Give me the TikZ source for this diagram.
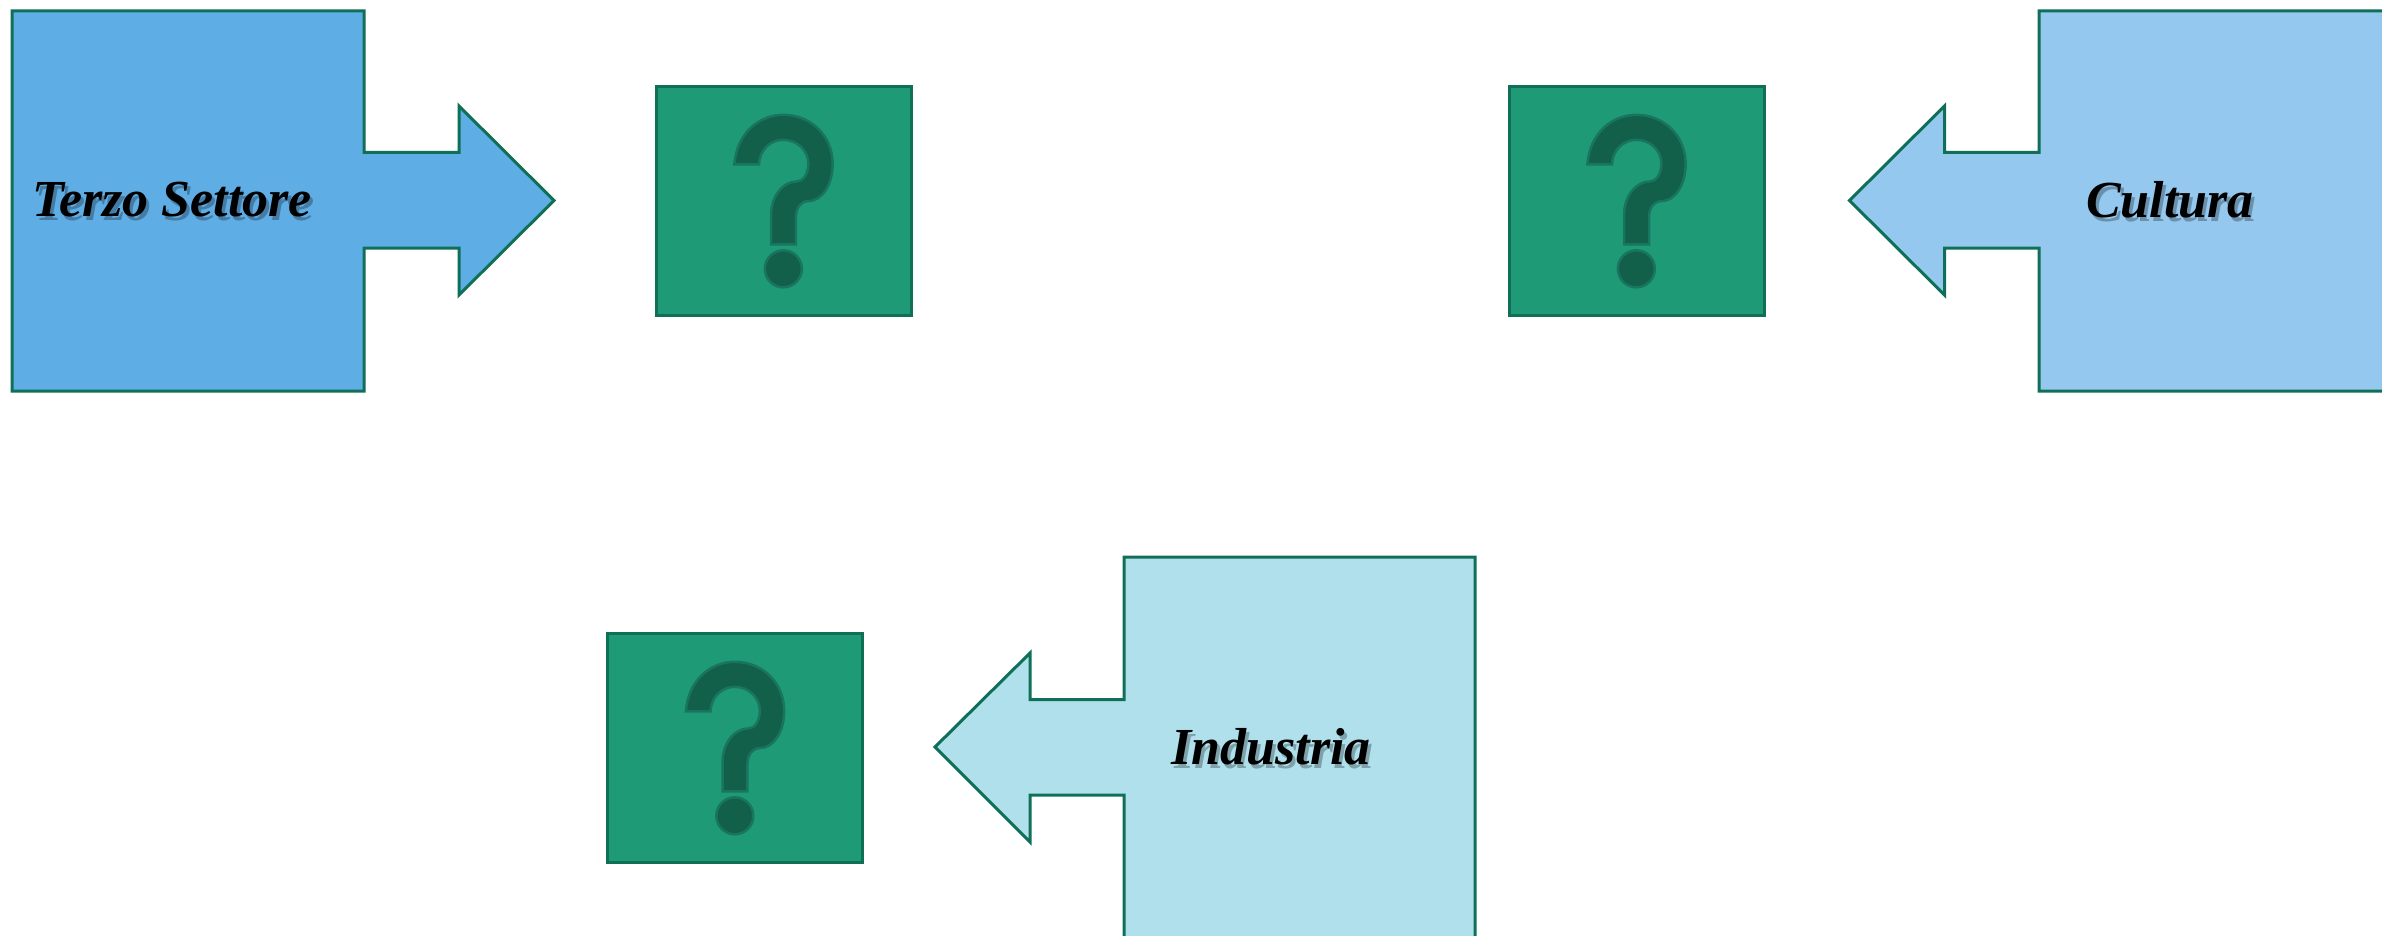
\documentclass[tikz,border=0pt]{standalone}
\usepackage{fontspec}
\setmainfont{Liberation Serif}
\definecolor{edgegreen}{HTML}{0F6F57}
\definecolor{boxgreen}{HTML}{1E9B76}
\definecolor{markdark}{HTML}{125F4A}
\definecolor{markedge}{HTML}{1A7560}
\definecolor{blueA}{HTML}{5FADE5}
\definecolor{blueB}{HTML}{95C8EE}
\definecolor{blueC}{HTML}{B0E0EC}
\tikzset{
  callout/.style={draw=edgegreen,line width=3pt,miter limit=10},
  qbox/.style={draw=edgegreen,fill=boxgreen,line width=3pt,minimum width=255pt,minimum height=229pt,inner sep=0pt},
  qmark/.style={fill=markdark,draw=markedge,line width=2.5pt},
  labeltext/.style={font=\fontsize{52}{60}\bfseries\itshape\selectfont,text=black,inner sep=0pt},
  labelshadow/.style={font=\fontsize{52}{60}\bfseries\itshape\selectfont,text=black,opacity=.28,inner sep=0pt},
  pics/questionmark/.style={code={
    \path[qmark,shift={(-93.5pt,100.5pt)},x=0.3333pt,y=-0.3333pt]
      (133,192) .. controls (140,100) and (205,43) .. (280,43)
      .. controls (365,43) and (428,108) .. (428,190)
      .. controls (428,255) and (395,302) .. (355,302)
      .. controls (333,302) and (318,322) .. (318,350)
      -- (318,432) -- (243,432) -- (243,345)
      .. controls (243,285) and (280,243) .. (320,243)
      .. controls (340,243) and (355,220) .. (355,190)
      .. controls (355,150) and (322,118) .. (280,118)
      .. controls (240,118) and (208,150) .. (207,192) -- cycle;
    \path[qmark,shift={(-93.5pt,100.5pt)},x=0.3333pt,y=-0.3333pt]
      (280,505) circle[radius=18.5pt];
  }}
}
\begin{document}
\begin{tikzpicture}[x=1pt,y=-1pt]
\useasboundingbox (0,0) rectangle (2382,936);
\clip (0,0) rectangle (2382,936);
% callouts
\path[callout,fill=blueA] (12,11) -- (364,11) -- (364,152.5) -- (459,152.5) -- (459,106) -- (554,200.5) -- (459,295) -- (459,248) -- (364,248) -- (364,391) -- (12,391) -- cycle;
\path[callout,fill=blueB] (2400,11) -- (2039,11) -- (2039,152.5) -- (1944.5,152.5) -- (1944.5,106) -- (1849.5,200.5) -- (1944.5,295) -- (1944.5,248) -- (2039,248) -- (2039,391) -- (2400,391) -- cycle;
\path[callout,fill=blueC] (1475,557) -- (1124,557) -- (1124,699.5) -- (1030,699.5) -- (1030,653) -- (935,747) -- (1030,842) -- (1030,795) -- (1124,795) -- (1124,950) -- (1475,950) -- cycle;
% boxes
\node[qbox] (q1) at (783.5,201) {};
\node[qbox] (q2) at (1636.5,201) {};
\node[qbox] (q3) at (735,748) {};
\path (q1.center) pic {questionmark};
\path (q2.center) pic {questionmark};
\path (q3.center) pic {questionmark};
% labels
\node[labelshadow] (s1) at (175,204) {Terzo Settore};
\node[labelshadow] (s2) at (2173,204) {Cultura};
\node[labelshadow] (s3) at (1274,751) {Industria};
\node[labeltext] (t1) at (172,200) {Terzo Settore};
\node[labeltext] (t2) at (2170,200) {Cultura};
\node[labeltext] (t3) at (1271,747) {Industria};
\end{tikzpicture}
\end{document}
